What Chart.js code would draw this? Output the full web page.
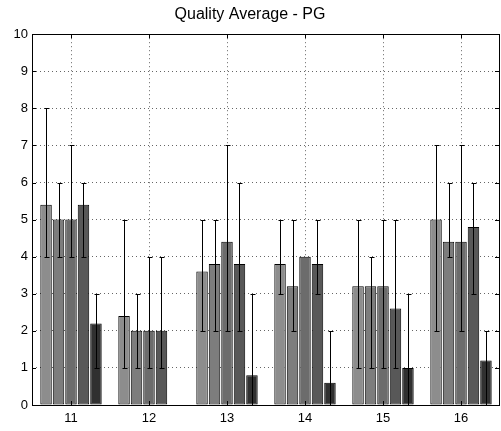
<!DOCTYPE html>
<html>
<head>
<meta charset="utf-8">
<title>Quality Average - PG</title>
<script src="https://cdn.jsdelivr.net/npm/chart.js@4/dist/chart.umd.min.js"></script>
<style>
    body { margin: 0; background: #fff; }
    #chart { display: block; }
</style>
</head>
<body>
<canvas id="chart" width="501" height="431"></canvas>
<script>
// categories
const labels = ['11', '12', '13', '14', '15', '16'];

// mean values per series (null = no bar)
const s1 = [5.4, 2.4, 3.6, 3.8, 3.2, 5.0];
const s2 = [5.0, 2.0, 3.8, 3.2, 3.2, 4.4];
const s3 = [5.0, 2.0, 4.4, 4.0, 3.2, 4.4];
const s4 = [5.4, 2.0, 3.8, 3.8, 2.6, 4.8];
const s5 = [2.2, null, 0.8, 0.6, 1.0, 1.2];

// error bar ends (low / high)
const low1 = [4, 1, 2, 3, 1, 2];
const low2 = [4, 1, 2, 2, 1, 4];
const low3 = [4, 1, 2, null, 1, 2];
const low4 = [4, 1, 2, 3, 1, 3];
const low5 = [1, null, 0, 0, 0, 0];

const high1 = [8, 5, 5, 5, 5, 7];
const high2 = [6, 3, 5, 5, 4, 6];
const high3 = [7, 4, 7, null, 5, 7];
const high4 = [6, 4, 6, 5, 5, 6];
const high5 = [3, null, 3, 2, 3, 2];

const yTicks = [0, 1, 2, 3, 4, 5, 6, 7, 8, 9, 10];

const barColors = ['#8d8d8d', '#7d7d7d', '#6c6c6c', '#585858', '#303030'];
const series = [s1, s2, s3, s4, s5];
const lows = [low1, low2, low3, low4, low5];
const highs = [high1, high2, high3, high4, high5];

// error bars, box and inward tick marks (matlab look)
const decorations = {
    id: 'decorations',
    afterDatasetsDraw(chart) {
        const ctx = chart.ctx;
        const yScale = chart.scales.y;
        const xScale = chart.scales.x;
        const area = chart.chartArea;

        ctx.save();
        ctx.strokeStyle = '#000';
        ctx.lineWidth = 1;

        chart.data.datasets.forEach((ds, i) => {
            const meta = chart.getDatasetMeta(i);
            meta.data.forEach((bar, j) => {
                const lo = lows[i][j];
                const hi = highs[i][j];
                if (lo === null || hi === null || ds.data[j] === null) return;
                const x = Math.round(bar.x) + 0.5;
                const yLo = Math.round(yScale.getPixelForValue(lo)) + 0.5;
                const yHi = Math.round(yScale.getPixelForValue(hi)) + 0.5;
                ctx.beginPath();
                ctx.moveTo(x, yLo);
                ctx.lineTo(x, yHi);
                ctx.moveTo(x - 2, yLo);
                ctx.lineTo(x + 3, yLo);
                ctx.moveTo(x - 2, yHi);
                ctx.lineTo(x + 3, yHi);
                ctx.stroke();
            });
        });

        // box
        ctx.strokeRect(Math.round(area.left) + 0.5, Math.round(area.top) + 0.5,
            Math.round(area.right - area.left) - 1, Math.round(area.bottom - area.top));

        // inward ticks
        ctx.beginPath();
        yTicks.forEach(v => {
            const y = Math.round(yScale.getPixelForValue(v)) + 0.5;
            ctx.moveTo(area.left, y);
            ctx.lineTo(area.left + 4, y);
            ctx.moveTo(area.right, y);
            ctx.lineTo(area.right - 5, y);
        });
        labels.forEach((l, j) => {
            const x = Math.round(xScale.getPixelForValue(j)) + 0.5;
            ctx.moveTo(x, area.top);
            ctx.lineTo(x, area.top + 4);
            ctx.moveTo(x, area.bottom);
            ctx.lineTo(x, area.bottom - 4);
        });
        ctx.stroke();
        ctx.restore();
    }
};

new Chart(document.getElementById('chart'), {
    type: 'bar',
    data: {
        labels: labels,
        datasets: series.map((s, i) => ({
            label: 'Series ' + (i + 1),
            data: s,
            backgroundColor: barColors[i],
            borderColor: '#000',
            borderWidth: 1,
            borderSkipped: false,
            categoryPercentage: 0.8,
            barPercentage: 0.92
        }))
    },
    options: {
        responsive: false,
        animation: false,
        layout: { padding: { right: 1, left: 0 } },
        plugins: {
            legend: { display: false },
            tooltip: { enabled: false },
            title: {
                display: true,
                text: 'Quality Average - PG',
                color: '#000',
                font: { family: 'Liberation Sans, Arial, sans-serif', size: 16, weight: 'normal' },
                padding: { top: 5, bottom: 10 }
            }
        },
        scales: {
            x: {
                offset: true,
                grid: { display: true, offset: false, drawTicks: false, color: '#666' },
                border: { display: false, dash: [1, 3] },
                ticks: {
                    color: '#000',
                    padding: 6,
                    font: { family: 'Liberation Sans, Arial, sans-serif', size: 13 }
                },
                afterFit(scale) { scale.height = 26; }
            },
            y: {
                min: 0,
                max: 10,
                grid: { drawTicks: false, color: '#666' },
                border: { display: false, dash: [1, 3] },
                ticks: {
                    stepSize: 1,
                    color: '#000',
                    padding: 4,
                    font: { family: 'Liberation Sans, Arial, sans-serif', size: 13 }
                },
                afterFit(scale) { scale.width = 32; }
            }
        }
    },
    plugins: [decorations]
});
</script>
</body>
</html>
